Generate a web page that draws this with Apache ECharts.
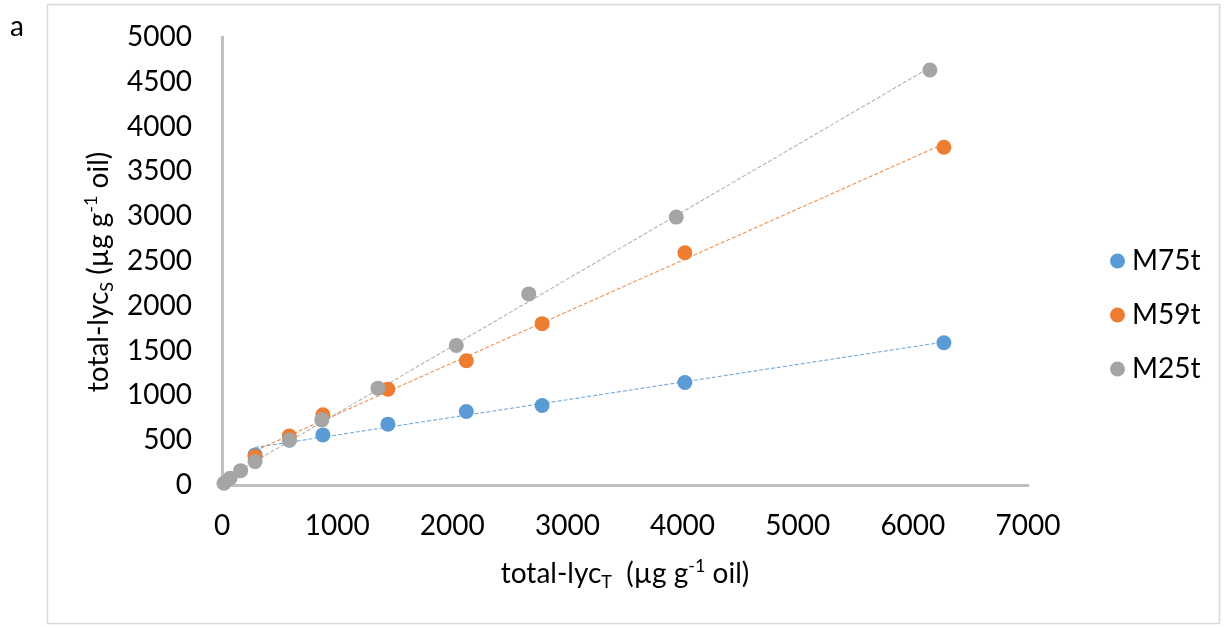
<!DOCTYPE html>
<html>
<head>
  <meta charset="utf-8" />
  <style type="text/css">
    body, html { width: 100%; height: 100%; margin: 0; background: #fff; }
    #main { width: 1224px; height: 626px; }
  </style>
  <script type="text/javascript" src="https://cdn.jsdelivr.net/npm/echarts@6/dist/echarts.min.js"></script>
</head>
<body>
  <div id="main"></div>
<script type="text/javascript">
  // values
  let seriesNames = ['M75t', 'M59t', 'M25t']
  let colors = ['#5B9BD5', '#ED7D31', '#A5A5A5']

  let m75tX = [287, 585, 876, 1441, 2122, 2780, 4020, 6270]
  let m75tY = [336, 500, 559, 679, 820, 887, 1144, 1588]

  let m59tX = [287, 585, 876, 1441, 2122, 2780, 4020, 6270]
  let m59tY = [317, 548, 783, 1070, 1387, 1801, 2592, 3770]

  let m25tX = [17, 70, 162, 287, 585, 867, 1354, 2035, 2664, 3945, 6148]
  let m25tY = [19, 75, 160, 261, 503, 727, 1081, 1558, 2133, 2990, 4631]

  let xTicks = [0, 1000, 2000, 3000, 4000, 5000, 6000, 7000]
  let yTicks = [0, 500, 1000, 1500, 2000, 2500, 3000, 3500, 4000, 4500, 5000]

  let allX = [m75tX, m59tX, m25tX]
  let allY = [m75tY, m59tY, m25tY]

  // linear trendline over the data range, like the spreadsheet does
  function trend(xs, ys) {
    let n = xs.length, sx = 0, sy = 0, sxx = 0, sxy = 0
    for (let i = 0; i < n; i++) {
      sx += xs[i]; sy += ys[i]; sxx += xs[i] * xs[i]; sxy += xs[i] * ys[i]
    }
    let b = (n * sxy - sx * sy) / (n * sxx - sx * sx)
    let a = (sy - b * sx) / n
    let lo = Math.min(...xs), hi = Math.max(...xs)
    return [[lo, a + b * lo], [hi, a + b * hi]]
  }

  let font = 'Lato'
  let series = []
  for (let i = 0; i < 3; i++) {
    series.push({
      name: seriesNames[i] + ' trend',
      type: 'line',
      data: trend(allX[i], allY[i]),
      showSymbol: false,
      silent: true,
      z: 1,
      lineStyle: { color: colors[i], width: 1.1, type: [4, 2], opacity: 0.85 }
    })
  }
  for (let i = 0; i < 3; i++) {
    series.push({
      name: seriesNames[i],
      type: 'scatter',
      data: allX[i].map((x, j) => [x, allY[i][j]]),
      symbolSize: 15,
      z: 2 + i,
      itemStyle: { color: colors[i], opacity: 1 }
    })
  }

  let nameRich = {
    a: { fontFamily: font, fontSize: 28, color: '#000', lineHeight: 34 },
    s: { fontFamily: font, fontSize: 18, color: '#000', lineHeight: 17, verticalAlign: 'bottom' },
    p: { fontFamily: font, fontSize: 18, color: '#000', lineHeight: 22, verticalAlign: 'top' }
  }

  let myChart = echarts.init(document.getElementById('main'))

  let option = {
    animation: false,
    textStyle: { fontFamily: font },
    grid: { left: 222, right: 196, top: 37, bottom: 141, containLabel: false },
    graphic: [
      {
        type: 'rect',
        shape: { x: 47.5, y: 4.5, width: 1172, height: 619 },
        style: { fill: 'none', stroke: '#D9D9D9', lineWidth: 1.5 },
        silent: true
      },
      {
        type: 'text',
        left: 10, top: 13,
        style: { text: 'a', font: '28px Lato', fill: '#000' }
      }
    ],
    legend: {
      data: seriesNames,
      orient: 'vertical',
      left: 1105,
      top: 242,
      itemGap: 26,
      itemWidth: 15,
      itemHeight: 15,
      icon: 'circle',
      textStyle: { fontFamily: font, fontSize: 28, color: '#000', lineHeight: 28, padding: [0, 0, 0, 2] }
    },
    xAxis: {
      type: 'value',
      min: xTicks[0],
      max: xTicks[xTicks.length - 1],
      interval: 1000,
      splitLine: { show: false },
      axisTick: { show: false },
      axisLine: { onZero: false, lineStyle: { color: '#BFBFBF', width: 3 } },
      axisLabel: { color: '#000', fontFamily: font, fontSize: 28, margin: 27, formatter: v => String(v) },
      name: '{a|total-lyc}{s|T}{a|  (µg g}{p|-1}{a| oil)}',
      nameLocation: 'middle',
      nameGap: 72,
      nameTextStyle: { rich: nameRich }
    },
    yAxis: {
      type: 'value',
      min: yTicks[0],
      max: yTicks[yTicks.length - 1],
      interval: 500,
      splitLine: { show: false },
      axisTick: { show: false },
      axisLine: { show: true, onZero: false, lineStyle: { color: '#BFBFBF', width: 3 } },
      axisLabel: { color: '#000', fontFamily: font, fontSize: 28, margin: 30, formatter: v => String(v) },
      name: '{a|total-lyc}{s|S}{a| (µg g}{p|-1}{a| oil)}',
      nameLocation: 'middle',
      nameRotate: 90,
      nameGap: 104,
      nameTextStyle: { rich: nameRich, padding: [0, 22, 0, 0] }
    },
    series: series
  }

  myChart.setOption(option)
</script>
</body>
</html>
